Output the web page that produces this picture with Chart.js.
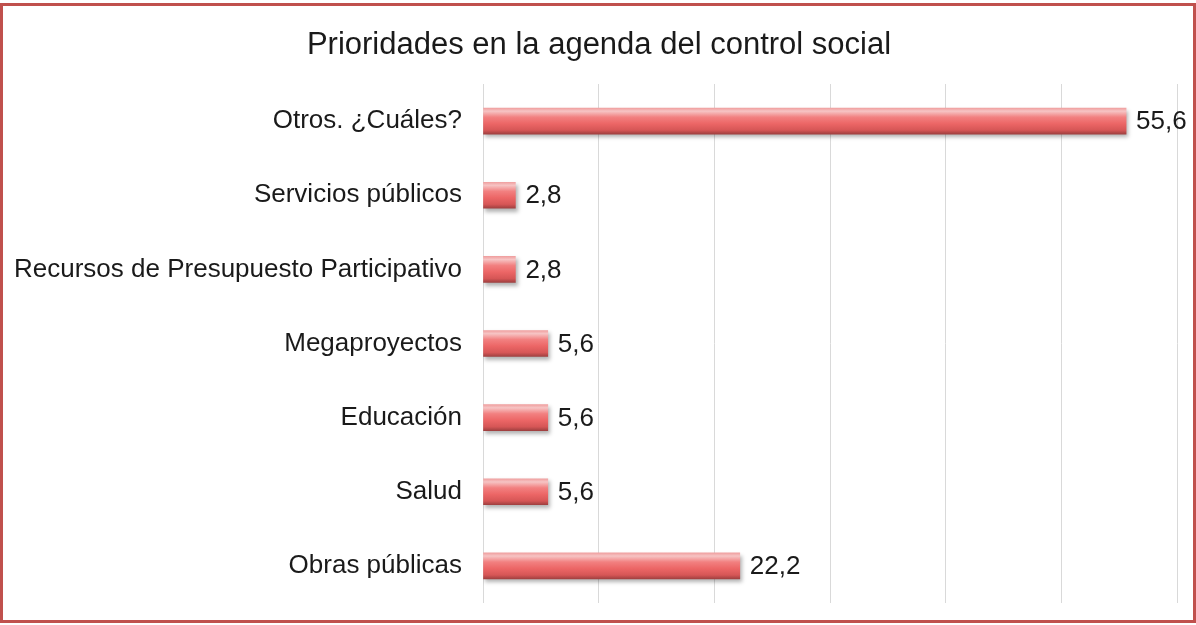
<!DOCTYPE html>
<html lang="es">
<head>
<meta charset="utf-8">
<title>Prioridades en la agenda del control social</title>
<script src="https://cdn.jsdelivr.net/npm/chart.js@4/dist/chart.umd.min.js"></script>
<style>
  html, body { margin: 0; padding: 0; background: #fff; }
  #wrap { position: relative; width: 1196px; height: 625px; }
  #frame {
    position: absolute; left: 0; top: 3px; width: 1196px; height: 620px;
    box-sizing: border-box; border: 3px solid #c0504d; pointer-events: none;
  }
  canvas { position: absolute; left: 0; top: 0; }
</style>
</head>
<body>
<div id="wrap">
  <canvas id="chart" width="1196" height="625"></canvas>
  <div id="frame"></div>
</div>
<script>
const titleText = "Prioridades en la agenda del control social";
const categories = [
  "Otros. ¿Cuáles?",
  "Servicios públicos",
  "Recursos de Presupuesto Participativo",
  "Megaproyectos",
  "Educación",
  "Salud",
  "Obras públicas"
];
const percentages = [55.6, 2.8, 2.8, 5.6, 5.6, 5.6, 22.2];

const FONT = "'Liberation Sans', Arial, sans-serif";
const BAR_H = 26;

// cylinder-style shading for each bar
const barFill = (ctx) => {
  const chart = ctx.chart;
  if (!chart.chartArea || !chart.scales.y) return "#e05a59";
  const cy = chart.scales.y.getPixelForValue(ctx.dataIndex);
  const g = chart.ctx.createLinearGradient(0, cy - BAR_H / 2, 0, cy + BAR_H / 2);
  g.addColorStop(0, "#f0a0a0");
  g.addColorStop(0.12, "#f6c4c4");
  g.addColorStop(0.35, "#f28080");
  g.addColorStop(0.6, "#ec6666");
  g.addColorStop(0.85, "#d65656");
  g.addColorStop(1, "#a04040");
  return g;
};

// soft drop shadow under the bars
const barShadow = {
  id: "barShadow",
  beforeDatasetsDraw(chart) {
    const c = chart.ctx;
    c.save();
    c.shadowColor = "rgba(0,0,0,0.3)";
    c.shadowBlur = 4;
    c.shadowOffsetX = 2;
    c.shadowOffsetY = 3;
  },
  afterDatasetsDraw(chart) {
    chart.ctx.restore();
  }
};

// value labels to the right of each bar, with decimal comma
const valueLabels = {
  id: "valueLabels",
  afterDatasetsDraw(chart) {
    const c = chart.ctx;
    const meta = chart.getDatasetMeta(0);
    c.save();
    c.font = "26px " + FONT;
    c.fillStyle = "#1a1a1a";
    c.textAlign = "left";
    c.textBaseline = "middle";
    meta.data.forEach((bar, i) => {
      const txt = percentages[i].toFixed(1).replace(".", ",");
      c.fillText(txt, bar.x + 10, bar.y + 1);
    });
    c.restore();
  }
};

// title centred on the whole page
const pageTitle = {
  id: "pageTitle",
  afterDraw(chart) {
    const c = chart.ctx;
    c.save();
    c.font = "31px " + FONT;
    c.fillStyle = "#1a1a1a";
    c.textAlign = "center";
    c.textBaseline = "middle";
    c.fillText(titleText, 599, 45);
    c.restore();
  }
};

new Chart(document.getElementById("chart"), {
  type: "bar",
  data: {
    labels: categories,
    datasets: [{
      data: percentages,
      backgroundColor: barFill,
      borderWidth: 0,
      barThickness: BAR_H
    }]
  },
  options: {
    indexAxis: "y",
    responsive: false,
    animation: false,
    layout: { padding: { left: 0, right: 19, top: 84, bottom: 22 } },
    plugins: {
      legend: { display: false },
      tooltip: { enabled: false },
      title: { display: false }
    },
    scales: {
      x: {
        min: 0,
        max: 60,
        ticks: { display: false, stepSize: 10 },
        grid: { color: "#d9d9d9", lineWidth: 1, drawTicks: false },
        border: { display: false },
        afterFit(scale) { scale.height = 0; }
      },
      y: {
        ticks: {
          color: "#1a1a1a",
          padding: 21,
          font: { family: FONT, size: 26 }
        },
        grid: { display: false, drawTicks: false },
        border: { display: false },
        afterFit(scale) {
          scale.width = 483;
          // label padding would otherwise push the plot area up from the bottom
          scale.paddingTop = 0;
          scale.paddingBottom = 0;
        }
      }
    }
  },
  plugins: [barShadow, valueLabels, pageTitle]
});
</script>
</body>
</html>
